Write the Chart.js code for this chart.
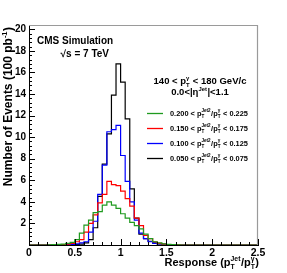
<!DOCTYPE html>
<html>
<head>
<meta charset="utf-8">
<script src="https://cdn.jsdelivr.net/npm/chart.js@4/dist/chart.umd.min.js"></script>
<style>
html,body{margin:0;padding:0;background:#fff;}
canvas{display:block;}
</style>
</head>
<body>
<canvas id="c" width="287" height="273"></canvas>
<script>
// ---- data (bin lower edges, bin width 0.05) ----
const binStarts = [0.20,0.25,0.30,0.35,0.40,0.45,0.50,0.55,0.60,0.65,0.70,0.75,0.80,0.85,0.90,0.95,1.00,1.05,1.10,1.15,1.20,1.25,1.30,1.35,1.40,1.45,1.50,1.55,1.60];
const binWidth = 0.05;
const green = [0.02,0.03,0.05,0.08,0.15,0.25,0.5,1.1,1.85,2.3,3.0,3.1,3.7,4.0,3.7,3.4,2.9,2.5,2.1,1.8,1.5,1.0,0.6,0.3,0.2,0.1,0.05,0.03,0.01];
const red   = [0,0.01,0.02,0.04,0.08,0.15,0.3,0.5,1.2,2.0,2.8,3.9,4.7,5.9,5.6,5.5,5.0,4.3,3.6,2.5,1.8,0.9,0.6,0.3,0.15,0.08,0.04,0.02,0.01];
const blue  = [0,0,0.01,0.02,0.03,0.06,0.1,0.2,0.3,1.2,2.2,4.7,7.4,10.5,10.7,11.1,8.3,5.9,4.0,2.3,1.1,0.6,0.3,0.15,0.1,0.05,0.03,0.01,0];
const black = [0,0,0,0,0.01,0.02,0.04,0.08,0.2,0.5,1.6,4.5,7.5,10.3,13.9,16.8,15.1,11.7,5.2,2.5,1.0,0.6,0.35,0.2,0.1,0.05,0.02,0.01,0];
const xTicks = [0,0.5,1,1.5,2,2.5];
const yTicks = [2,4,6,8,10,12,14,16,18,20];
const legendLabels = [
  {lo:'0.200', hi:'0.225'},
  {lo:'0.150', hi:'0.175'},
  {lo:'0.100', hi:'0.125'},
  {lo:'0.050', hi:'0.075'}
];

const FF = '"Liberation Sans", Arial, Helvetica, sans-serif';

function steps(vals){
  const pts = [{x:0, y:0}];
  binStarts.forEach((b,i)=>pts.push({x:b, y:vals[i]}));
  const end = binStarts[binStarts.length-1] + binWidth;
  pts.push({x:end, y:0});
  pts.push({x:2.5, y:0});
  return pts;
}

function drawRich(ctx, parts, x, y, align, base){
  const small = base*0.62;
  function w(p){
    if (typeof p === 'string'){ ctx.font = `bold ${base}px ${FF}`; return ctx.measureText(p).width; }
    ctx.font = `bold ${small}px ${FF}`;
    return Math.max(p.sub?ctx.measureText(p.sub).width:0, p.sup?ctx.measureText(p.sup).width:0) + 0.5;
  }
  const total = parts.reduce((s,p)=>s+w(p),0);
  let cx = align==='center' ? x-total/2 : (align==='right' ? x-total : x);
  ctx.textAlign = 'left';
  ctx.textBaseline = 'alphabetic';
  for (const p of parts){
    const pw = w(p);
    if (typeof p === 'string'){
      ctx.font = `bold ${base}px ${FF}`;
      ctx.fillText(p, cx, y);
    } else {
      ctx.font = `bold ${small}px ${FF}`;
      if (p.sub) ctx.fillText(p.sub, cx, y + base*0.28);
      if (p.sup) ctx.fillText(p.sup, cx, y - base*0.42);
    }
    cx += pw;
  }
}

const decor = {
  id:'decor',
  afterDraw(chart){
    const ctx = chart.ctx;
    const xs = chart.scales.x, ys = chart.scales.y;
    const a = chart.chartArea;
    ctx.save();
    // frame top/right
    ctx.strokeStyle = '#9a9a9a';
    ctx.lineWidth = 1.2;
    ctx.beginPath();
    ctx.moveTo(a.left, a.top+0.5); ctx.lineTo(a.right-0.5, a.top+0.5); ctx.lineTo(a.right-0.5, a.bottom);
    ctx.stroke();
    // inward ticks
    ctx.strokeStyle = '#000';
    ctx.lineWidth = 1;
    ctx.beginPath();
    for (let i=0;i<=25;i++){
      const v = i*0.1;
      const px = Math.round(xs.getPixelForValue(v))+0.5;
      const len = (i%5===0) ? 6 : 3;
      ctx.moveTo(px, a.bottom); ctx.lineTo(px, a.bottom-len);
    }
    for (let i=0;i<=51;i++){
      const v = i*0.4;
      if (v > ys.max) break;
      const py = Math.round(ys.getPixelForValue(v))+0.5;
      const len = (i%5===0) ? 6 : 3;
      ctx.moveTo(a.left, py); ctx.lineTo(a.left+len, py);
    }
    ctx.stroke();

    ctx.fillStyle = '#000';
    // CMS texts
    drawRich(ctx, ['CMS Simulation'], 37, 44, 'left', 10);
    drawRich(ctx, ['\u221As = 7 TeV'], 109, 57, 'right', 10);
    drawRich(ctx, ['140 < p', {sub:'T', sup:'\u03B3'}, ' < 180 GeV/c'], 200, 84, 'center', 9.5);
    drawRich(ctx, ['0.0<|\u03B7', {sup:'Jet'}, '|<1.1'], 200, 95, 'center', 9.5);

    // legend
    const dsets = chart.data.datasets;
    legendLabels.forEach((l,i)=>{
      const cy = 113 + i*15;
      ctx.strokeStyle = dsets[i].borderColor;
      ctx.lineWidth = 1.3;
      ctx.beginPath(); ctx.moveTo(147, cy+0.5); ctx.lineTo(163, cy+0.5); ctx.stroke();
      ctx.fillStyle = '#000';
      drawRich(ctx, [l.lo+' < p', {sub:'T', sup:'Jet2'}, '/p', {sub:'T', sup:'\u03B3'}, ' < '+l.hi], 170, cy+2.5, 'left', 7.4);
    });

    // axis titles
    drawRich(ctx, ['Response (p', {sub:'T', sup:'Jet'}, '/p', {sub:'T', sup:'\u03B3'}, ')'], 259, 266, 'right', 11);
    ctx.save();
    ctx.translate(12, 27);
    ctx.rotate(-Math.PI/2);
    drawRich(ctx, ['Number of Events (100 pb', {sup:'-1'}, ')'], 0, 0, 'right', 12);
    ctx.restore();
    ctx.restore();
  }
};

const ds = (label, vals, color) => ({
  label, data: steps(vals), borderColor: color, borderWidth: 1.2,
  pointRadius: 0, stepped: 'before', fill: false, tension: 0
});

new Chart(document.getElementById('c'), {
  type: 'line',
  data: {
    datasets: [
      ds('0.200-0.225', green, '#1f9a1f'),
      ds('0.150-0.175', red, '#ff0000'),
      ds('0.100-0.125', blue, '#0000ff'),
      ds('0.050-0.075', black, '#000000')
    ]
  },
  options: {
    responsive: false,
    animation: false,
    devicePixelRatio: 1,
    layout: { padding: { top: 25, right: 29, left: 0, bottom: 0 } },
    plugins: { legend: { display: false }, tooltip: { enabled: false } },
    scales: {
      x: {
        type: 'linear', min: 0, max: 2.5,
        grid: { display: false, drawTicks: false },
        border: { display: true, color: '#000', width: 1 },
        afterBuildTicks: s => { s.ticks = xTicks.map(v => ({value: v})); },
        afterFit: s => { s.height = 28; },
        ticks: { color: '#000', font: { family: FF, weight: 'bold', size: 10.5 }, padding: 2, maxRotation: 0, autoSkip: false,
                 callback: v => String(v) }
      },
      y: {
        type: 'linear', min: 0, max: 20.4,
        grid: { display: false, drawTicks: false },
        border: { display: true, color: '#000', width: 1 },
        afterBuildTicks: s => { s.ticks = yTicks.map(v => ({value: v})); },
        afterFit: s => { s.width = 29; },
        ticks: { color: '#000', font: { family: FF, weight: 'bold', size: 10 }, padding: 3,
                 callback: v => String(v) }
      }
    }
  },
  plugins: [decor]
});
</script>
</body>
</html>
